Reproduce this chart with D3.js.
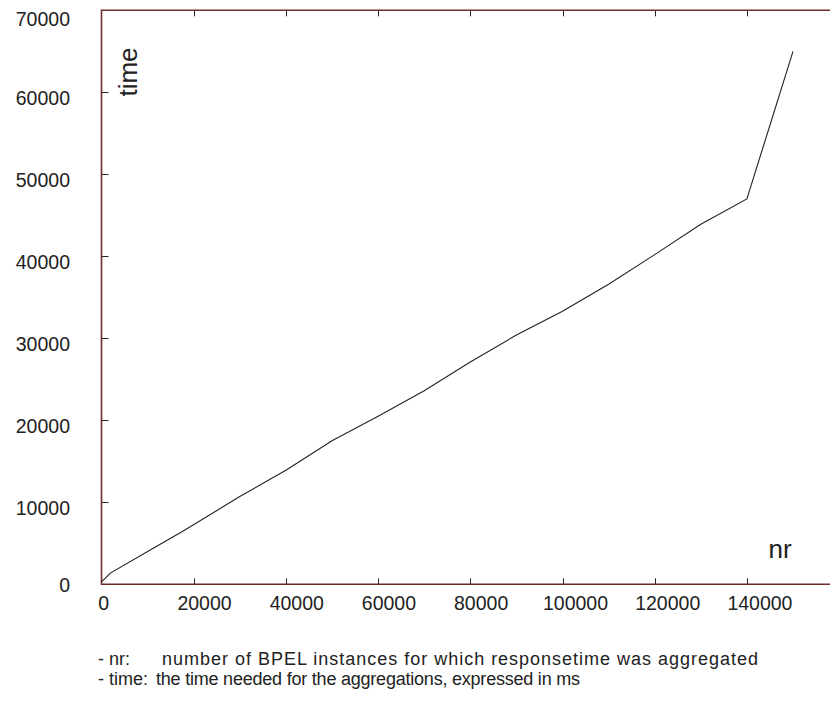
<!DOCTYPE html>
<html>
<head>
<meta charset="utf-8">
<script src="https://cdn.jsdelivr.net/npm/d3@7"></script>
<style>
  body { margin: 0; background: #fff; }
  text { font-family: "Liberation Sans", Arial, sans-serif; fill: #222; }
</style>
</head>
<body>
<div id="chart"></div>
<script>
const width = 830;
const height = 702;

// data
const nrValues = [0, 2000, 10000, 18000, 30000, 40000, 50000, 60000, 70000, 80000, 90000, 100000, 110000, 120000, 130000, 140000, 150000];
const timeValues = [300, 1400, 4000, 6600, 10700, 13900, 17500, 20500, 23600, 27100, 30400, 33300, 36600, 40200, 43900, 47000, 65000];
const xTicks = [0, 20000, 40000, 60000, 80000, 100000, 120000, 140000];
const yTicks = [0, 10000, 20000, 30000, 40000, 50000, 60000, 70000];
const notes = [
  ["- nr:", "number of BPEL instances for which responsetime was  aggregated"],
  ["- time:", "the time needed for the aggregations, expressed in ms"]
];

const data = nrValues.map((nr, i) => ({ nr: nr, time: timeValues[i] }));

const plotLeft = 101.5, plotRight = 831, plotTop = 10.3, plotBottom = 584.3;

const x = d3.scaleLinear()
  .domain([0, 20000])
  .range([plotLeft, plotLeft + 92.2]);

const y = d3.scaleLinear()
  .domain([0, 70000])
  .range([plotBottom, plotTop]);

const svg = d3.select("#chart")
  .append("svg")
  .attr("width", width)
  .attr("height", height);

// ticks (inward, on all framed sides)
const tickG = svg.append("g").attr("stroke", "#222").attr("stroke-width", 1);

tickG.selectAll("line.xb")
  .data(xTicks.filter(d => d > 0))
  .enter()
  .append("line")
  .attr("x1", d => Math.round(x(d)) + 0.5)
  .attr("x2", d => Math.round(x(d)) + 0.5)
  .attr("y1", plotBottom)
  .attr("y2", plotBottom - 6);

tickG.selectAll("line.xt")
  .data(xTicks.filter(d => d > 0))
  .enter()
  .append("line")
  .attr("x1", d => Math.round(x(d)) + 0.5)
  .attr("x2", d => Math.round(x(d)) + 0.5)
  .attr("y1", plotTop)
  .attr("y2", plotTop + 6);

tickG.selectAll("line.yl")
  .data(yTicks.filter(d => d > 0 && d < 70000))
  .enter()
  .append("line")
  .attr("x1", plotLeft)
  .attr("x2", plotLeft + 7)
  .attr("y1", d => Math.round(y(d)) + 0.5)
  .attr("y2", d => Math.round(y(d)) + 0.5);

// frame
svg.append("path")
  .attr("stroke", "#6e2c2c")
  .attr("stroke-width", 1.6)
  .attr("fill", "none")
  .attr("d", `M${plotRight},${plotTop}H${plotLeft}V${plotBottom}H${plotRight}`);

// data line
const line = d3.line()
  .x(d => x(d.nr))
  .y(d => y(d.time));

svg.append("path")
  .datum(data)
  .attr("fill", "none")
  .attr("stroke", "#222")
  .attr("stroke-width", 1.1)
  .attr("d", line);

// tick labels
svg.append("g")
  .selectAll("text")
  .data(yTicks)
  .enter()
  .append("text")
  .attr("x", 70)
  .attr("y", d => Math.min(Math.max(y(d) + 12.5, 26), 592))
  .attr("text-anchor", "end")
  .style("font-size", "19.5px")
  .text(d => d);

svg.append("g")
  .selectAll("text")
  .data(xTicks)
  .enter()
  .append("text")
  .attr("x", d => x(d))
  .attr("y", 610)
  .attr("text-anchor", "start")
  .style("font-size", "19.5px")
  .text(d => d)
  .each(function () {
    d3.select(this).attr("dx", -0.3 * this.getComputedTextLength());
  });

// axis titles
svg.append("text")
  .attr("transform", "translate(137,72) rotate(-90)")
  .attr("text-anchor", "middle")
  .style("font-size", "26px")
  .text("time");

svg.append("text")
  .attr("x", 780)
  .attr("y", 558)
  .attr("text-anchor", "middle")
  .style("font-size", "26px")
  .text("nr");

// notes under the chart
const noteG = svg.append("g").style("font-size", "18px").style("white-space", "pre");
noteG.selectAll("text.lab")
  .data(notes)
  .enter()
  .append("text")
  .attr("x", 98)
  .attr("y", (d, i) => 665 + i * 20)
  .text(d => d[0]);

noteG.selectAll("text.desc")
  .data(notes)
  .enter()
  .append("text")
  .attr("x", (d, i) => i === 0 ? 162 : 156)
  .attr("y", (d, i) => 665 + i * 20)
  .attr("textLength", (d, i) => i === 0 ? 596 : 424)
  .attr("lengthAdjust", "spacing")
  .text(d => d[1]);
</script>
</body>
</html>
